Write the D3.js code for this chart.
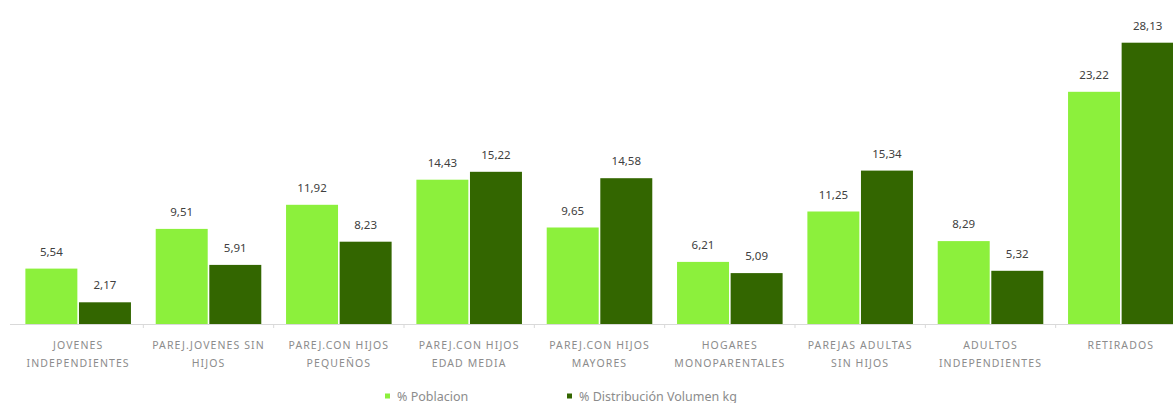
<!DOCTYPE html>
<html>
<head>
<meta charset="utf-8">
<script src="https://cdn.jsdelivr.net/npm/d3@7"></script>
<style>
  html, body { margin: 0; padding: 0; background: #ffffff; }
  svg { display: block; }
</style>
</head>
<body>
<div id="chart"></div>
<script>
const categories = [
  ["JOVENES", "INDEPENDIENTES"],
  ["PAREJ.JOVENES SIN", "HIJOS"],
  ["PAREJ.CON HIJOS", "PEQUEÑOS"],
  ["PAREJ.CON HIJOS", "EDAD MEDIA"],
  ["PAREJ.CON HIJOS", "MAYORES"],
  ["HOGARES", "MONOPARENTALES"],
  ["PAREJAS ADULTAS", "SIN HIJOS"],
  ["ADULTOS", "INDEPENDIENTES"],
  ["RETIRADOS"]
];
const poblacion = [5.54, 9.51, 11.92, 14.43, 9.65, 6.21, 11.25, 8.29, 23.22];
const volumen = [2.17, 5.91, 8.23, 15.22, 14.58, 5.09, 15.34, 5.32, 28.13];
const seriesNames = ["% Poblacion", "% Distribución Volumen kg"];
const seriesColors = ["#8cf03c", "#336600"];

const W = 1173, H = 403;
const plotLeft = 13, plotRight = 1186, baseline = 324;

const svg = d3.select("#chart").append("svg").attr("width", W).attr("height", H);

const x0 = d3.scaleBand().domain(d3.range(categories.length)).range([plotLeft, plotRight]).paddingInner(0.19).paddingOuter(0.095);
const x1 = d3.scaleBand().domain([0, 1]).range([0, x0.bandwidth()]).paddingInner(0.03);
const y = d3.scaleLinear().domain([0, 30]).range([baseline, baseline - 300]);

const fontFam = "'Noto Sans', 'Open Sans', sans-serif";

// axis line
svg.append("line").attr("x1", 10).attr("x2", W).attr("y1", baseline + 0.5).attr("y2", baseline + 0.5)
  .attr("stroke", "#d9d9d9").attr("stroke-width", 1);
// ticks between groups
const step = x0.step();
d3.range(1, categories.length).forEach(i => {
  const tx = x0(i) - (step - x0.bandwidth()) / 2;
  svg.append("line").attr("x1", tx).attr("x2", tx).attr("y1", baseline).attr("y2", baseline + 4)
    .attr("stroke", "#d9d9d9");
});

const data = categories.map((c, i) => ({ i, vals: [poblacion[i], volumen[i]] }));

const g = svg.selectAll("g.grp").data(data).join("g").attr("class", "grp")
  .attr("transform", d => `translate(${x0(d.i)},0)`);

g.selectAll("rect").data(d => d.vals.map((v, k) => ({ v, k }))).join("rect")
  .attr("x", d => x1(d.k)).attr("width", x1.bandwidth())
  .attr("y", d => y(d.v)).attr("height", d => baseline - y(d.v))
  .attr("fill", d => seriesColors[d.k]);

g.selectAll("text.val").data(d => d.vals.map((v, k) => ({ v, k }))).join("text")
  .attr("class", "val")
  .attr("x", d => x1(d.k) + x1.bandwidth() / 2)
  .attr("y", d => y(d.v) - 13)
  .attr("text-anchor", "middle")
  .attr("font-family", fontFam).attr("font-size", "11.5px").attr("fill", "#404040")
  .text(d => d.v.toFixed(2).replace(".", ","));

// category labels
categories.forEach((lines, i) => {
  const cx = x0(i) + x0.bandwidth() / 2;
  const t = svg.append("text").attr("text-anchor", "middle")
    .attr("font-family", fontFam).attr("font-size", "10.5px").attr("letter-spacing", "1.1px")
    .attr("fill", "#8c8c8c");
  lines.forEach((ln, j) => {
    t.append("tspan").attr("x", cx).attr("y", 349 + j * 18).text(ln);
  });
});

// legend
const legendX = [385, 567];
seriesNames.forEach((n, k) => {
  svg.append("rect").attr("x", legendX[k]).attr("y", 393.5).attr("width", 5).attr("height", 5).attr("fill", seriesColors[k]);
  svg.append("text").attr("x", legendX[k] + 12).attr("y", 400.5)
    .attr("font-family", fontFam).attr("font-size", "12.5px").attr("fill", "#8c8c8c").text(n);
});
</script>
</body>
</html>
